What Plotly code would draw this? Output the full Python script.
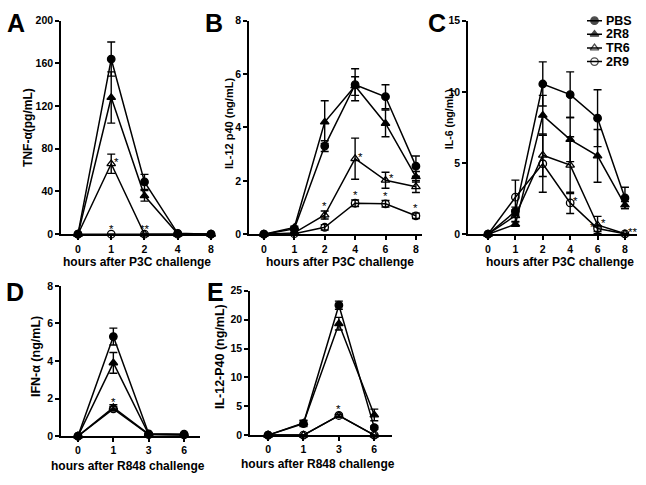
import plotly.graph_objects as go

# ---------------- data ----------------
series_names = ["PBS", "2R8", "TR6", "2R9"]

A_x = ["0", "1", "2", "4", "8"]
A_PBS = [0, 164, 49, 0.8, 0]
A_PBS_err = [0, 16, 7, 0, 0]
A_2R8 = [0, 128, 36, 0.5, 0]
A_2R8_err = [0, 24, 5, 0, 0]
A_TR6 = [0, 66, 0, 0, 0]
A_TR6_err = [0, 9, 0, 0, 0]
A_2R9 = [0, 0, 0, 0, 0]
A_2R9_err = [0, 0, 0, 0, 0]

B_x = ["0", "1", "2", "4", "6", "8"]
B_PBS = [0, 0.2, 3.3, 5.6, 5.15, 2.55]
B_PBS_err = [0, 0.05, 0.2, 0.6, 0.45, 0.38]
B_2R8 = [0, 0.25, 4.2, 5.55, 4.15, 2.15]
B_2R8_err = [0, 0.05, 0.8, 0.35, 0.5, 0.2]
B_TR6 = [0, 0.05, 0.72, 2.83, 2.02, 1.78]
B_TR6_err = [0, 0.02, 0.15, 0.77, 0.3, 0.22]
B_2R9 = [0, 0.02, 0.26, 1.16, 1.14, 0.69]
B_2R9_err = [0, 0.01, 0.1, 0.12, 0.12, 0.1]

C_x = ["0", "1", "2", "4", "6", "8"]
C_PBS = [0, 1.6, 10.55, 9.8, 8.15, 2.55]
C_PBS_err = [0, 0.3, 1.55, 1.6, 2.0, 0.75]
C_2R8 = [0, 0.7, 8.35, 6.65, 5.5, 2.05]
C_2R8_err = [0, 0.15, 1.4, 1.55, 1.85, 0.25]
C_TR6 = [0, 1.3, 5.55, 4.85, 0.65, 0.03]
C_TR6_err = [0, 0.4, 1.5, 2.0, 0.6, 0.02]
C_2R9 = [0, 2.6, 4.95, 2.2, 0.4, 0.03]
C_2R9_err = [0, 1.2, 2.0, 0.75, 0.2, 0.02]

D_x = ["0", "1", "3", "6"]
D_PBS = [0, 5.3, 0.12, 0.1]
D_PBS_err = [0, 0.45, 0.03, 0.03]
D_2R8 = [0, 3.9, 0.1, 0.07]
D_2R8_err = [0, 0.55, 0.03, 0.02]
D_TR6 = [0, 1.52, 0.1, 0.08]
D_TR6_err = [0, 0.15, 0.02, 0.02]
D_2R9 = [0, 1.45, 0.08, 0.06]
D_2R9_err = [0, 0.12, 0.02, 0.02]

E_x = ["0", "1", "3", "6"]
E_PBS = [0, 2.0, 22.5, 1.3]
E_PBS_err = [0, 0.5, 0.7, 0.3]
E_2R8 = [0, 2.1, 19.3, 3.5]
E_2R8_err = [0, 0.5, 1.1, 1.0]
E_TR6 = [0, 0, 3.4, 0]
E_TR6_err = [0, 0, 0.2, 0]
E_2R9 = [0, 0, 3.4, 0]
E_2R9_err = [0, 0, 0.2, 0]

A_yticks = [0, 40, 80, 120, 160, 200]
B_yticks = [0, 2, 4, 6, 8]
C_yticks = [0, 5, 10, 15]
D_yticks = [0, 2, 4, 6, 8]
E_yticks = [0, 5, 10, 15, 20, 25]

A_ytitle = "TNF-α(pg/mL)"
B_ytitle = "IL-12 p40 (ng/mL)"
C_ytitle = "IL-6 (ng/mL)"
D_ytitle = "IFN-α (ng/mL)"
E_ytitle = "IL-12-P40 (ng/mL)"
P3C_title = "hours after P3C challenge"
R848_title = "hours after R848 challenge"

# significance marks: (panel, series, category index, text, placement)
stars = [
    ("A", "TR6", 1, "*", "right"), ("A", "2R9", 1, "*", "above"), ("A", "2R9", 2, "**", "above"),
    ("B", "TR6", 2, "*", "above"), ("B", "2R9", 2, "*", "above"),
    ("B", "TR6", 3, "*", "right"), ("B", "2R9", 3, "*", "above"),
    ("B", "TR6", 4, "*", "right"), ("B", "2R9", 4, "*", "above"),
    ("B", "2R9", 5, "*", "above"),
    ("C", "2R9", 3, "*", "right"), ("C", "TR6", 4, "*", "right"),
    ("C", "2R9", 4, "*", "left"), ("C", "TR6", 5, "**", "right"),
    ("D", "2R9", 1, "*", "above"),
    ("E", "2R9", 2, "*", "above"),
]

# ---------------- layout helpers ----------------
W, H = 646, 485
FONT = "Arial, Liberation Sans, Helvetica, sans-serif"


def fx(p):
    return p / W


def fy(p):
    return 1 - p / H


panels = {
    "A": dict(ax="", cats=A_x, xd=(61, 215), yd=(234, 15), xr=(-0.51, 4.12), yr=(0, 200), yt=A_yticks,
              data={"PBS": (A_PBS, A_PBS_err), "2R8": (A_2R8, A_2R8_err), "TR6": (A_TR6, A_TR6_err), "2R9": (A_2R9, A_2R9_err)},
              ytitle=A_ytitle, ytpos=(28, 125, 12), xtitle=P3C_title, xtpos=(137, 263), letter=(16, 17)),
    "B": dict(ax="2", cats=B_x, xd=(249, 422), yd=(234, 15), xr=(-0.49, 5.2), yr=(0, 8), yt=B_yticks,
              data={"PBS": (B_PBS, B_PBS_err), "2R8": (B_2R8, B_2R8_err), "TR6": (B_TR6, B_TR6_err), "2R9": (B_2R9, B_2R9_err)},
              ytitle=B_ytitle, ytpos=(229, 121, 11), xtitle=P3C_title, xtpos=(340, 263), letter=(214, 17)),
    "C": dict(ax="3", cats=C_x, xd=(468, 637), yd=(234, 15), xr=(-0.73, 5.44), yr=(0, 15), yt=C_yticks,
              data={"PBS": (C_PBS, C_PBS_err), "2R8": (C_2R8, C_2R8_err), "TR6": (C_TR6, C_TR6_err), "2R9": (C_2R9, C_2R9_err)},
              ytitle=C_ytitle, ytpos=(449, 116, 10.5), xtitle=P3C_title, xtpos=(560, 263), letter=(437, 17)),
    "D": dict(ax="4", cats=D_x, xd=(61, 200), yd=(441, 287), xr=(-0.48, 3.45), yr=(0, 8), yt=D_yticks,
              data={"PBS": (D_PBS, D_PBS_err), "2R8": (D_2R8, D_2R8_err), "TR6": (D_TR6, D_TR6_err), "2R9": (D_2R9, D_2R9_err)},
              ytitle=D_ytitle, ytpos=(36, 360, 12.5), xtitle=R848_title, xtpos=(128, 472), letter=(15, 293)),
    "E": dict(ax="5", cats=E_x, xd=(250, 392), yd=(440, 292), xr=(-0.51, 3.5), yr=(0, 25), yt=E_yticks,
              data={"PBS": (E_PBS, E_PBS_err), "2R8": (E_2R8, E_2R8_err), "TR6": (E_TR6, E_TR6_err), "2R9": (E_2R9, E_2R9_err)},
              ytitle=E_ytitle, ytpos=(220, 360, 12.5), xtitle=R848_title, xtpos=(318, 470), letter=(216, 293)),
}

styles = {
    "PBS": dict(symbol="circle", size=7.5),
    "2R8": dict(symbol="triangle-up", size=7.5),
    "TR6": dict(symbol="triangle-up-open", size=7.5),
    "2R9": dict(symbol="circle-open", size=7.5),
}

fig = go.Figure()
annotations = []

for pname, p in panels.items():
    ax = p["ax"]
    xs = list(range(len(p["cats"])))
    for sname in series_names:
        vals, errs = p["data"][sname]
        st = styles[sname]
        fig.add_trace(go.Scatter(
            x=xs, y=vals, mode="lines+markers", name=sname,
            legendgroup=sname, showlegend=False,
            xaxis="x" + ax, yaxis="y" + ax, cliponaxis=False,
            line=dict(color="black", width=1.5),
            marker=dict(symbol=st["symbol"], size=st["size"], color="black",
                        line=dict(color="black", width=1.3)),
            error_y=dict(type="data", array=[e if e else None for e in errs], symmetric=True,
                         color="black", thickness=1.4, width=4),
        ))
    xa = dict(domain=[fx(p["xd"][0]), fx(p["xd"][1])], range=list(p["xr"]),
              tickmode="array", tickvals=xs, ticktext=p["cats"],
              showline=True, linecolor="black", linewidth=1.5, ticks="outside",
              ticklen=4, tickwidth=1.5, tickcolor="black", showgrid=False, zeroline=False,
              tickfont=dict(family=FONT, size=10.5, color="black", weight="bold"),
              anchor="y" + ax, fixedrange=True)
    ya = dict(domain=[fy(p["yd"][0]), fy(p["yd"][1])], range=list(p["yr"]),
              tickmode="array", tickvals=p["yt"],
              showline=True, linecolor="black", linewidth=1.5, ticks="outside",
              ticklen=4, tickwidth=1.5, tickcolor="black", showgrid=False, zeroline=False,
              tickfont=dict(family=FONT, size=10.5, color="black", weight="bold"),
              anchor="x" + ax, fixedrange=True)
    fig.layout["xaxis" + ax] = xa
    fig.layout["yaxis" + ax] = ya

    tx, ty, ts = p["ytpos"]
    annotations.append(dict(text="<b>%s</b>" % p["ytitle"], x=fx(tx), y=fy(ty), xref="paper", yref="paper",
                            textangle=-90, showarrow=False, xanchor="center", yanchor="middle",
                            font=dict(family=FONT, size=ts, color="black")))
    annotations.append(dict(text="<b>%s</b>" % p["xtitle"], x=fx(p["xtpos"][0]), y=fy(p["xtpos"][1]),
                            xref="paper", yref="paper", showarrow=False, xanchor="center", yanchor="middle",
                            font=dict(family=FONT, size=12, color="black")))
    annotations.append(dict(text="<b>%s</b>" % pname, x=fx(p["letter"][0]), y=fy(p["letter"][1]),
                            xref="paper", yref="paper", showarrow=False, xanchor="center", yanchor="middle",
                            font=dict(family=FONT, size=25, color="black")))

for pname, sname, idx, txt, place in stars:
    p = panels[pname]
    vals, errs = p["data"][sname]
    ax = p["ax"]
    a = dict(text=txt, xref="x" + ax, yref="y" + ax, x=idx, showarrow=False, borderpad=0,
             font=dict(family=FONT, size=11.5, color="black"))
    if place == "above":
        a.update(y=vals[idx] + errs[idx], yanchor="bottom", yshift=-2)
    elif place == "right":
        a.update(y=vals[idx], xanchor="left", xshift=2, yshift=2)
    else:
        a.update(y=vals[idx], xanchor="right", xshift=-2, yshift=2)
    annotations.append(a)

# ---------------- compact legend (own small axis, rows = series order) ----------------
for i, sname in enumerate(series_names):
    st = styles[sname]
    fig.add_trace(go.Scatter(
        x=[0, 0.5, 1], y=[i, i, i], mode="lines+markers", name=sname, showlegend=False,
        xaxis="x6", yaxis="y6", cliponaxis=False, hoverinfo="skip",
        line=dict(color="black", width=1.5),
        marker=dict(symbol=st["symbol"], size=[0, st["size"], 0], color="black",
                    line=dict(color="black", width=1.3)),
    ))
    annotations.append(dict(text="<b>%s</b>" % sname, xref="paper", yref="y6", x=fx(605), y=i,
                            xanchor="left", yanchor="middle", showarrow=False, borderpad=0,
                            font=dict(family=FONT, size=12.5, color="black")))

fig.layout["xaxis6"] = dict(domain=[fx(587), fx(602)], range=[0, 1], visible=False, fixedrange=True, anchor="y6")
fig.layout["yaxis6"] = dict(domain=[fy(64), fy(8)], range=[3.5, -0.5], visible=False, fixedrange=True, anchor="x6")

fig.update_layout(
    width=W, height=H, margin=dict(l=0, r=0, t=0, b=0),
    paper_bgcolor="white", plot_bgcolor="white",
    annotations=annotations,
    showlegend=False,
)

fig.write_html("out.html", config={"displayModeBar": False},
               post_script="document.body.style.margin='0';document.body.style.overflow='hidden';")
